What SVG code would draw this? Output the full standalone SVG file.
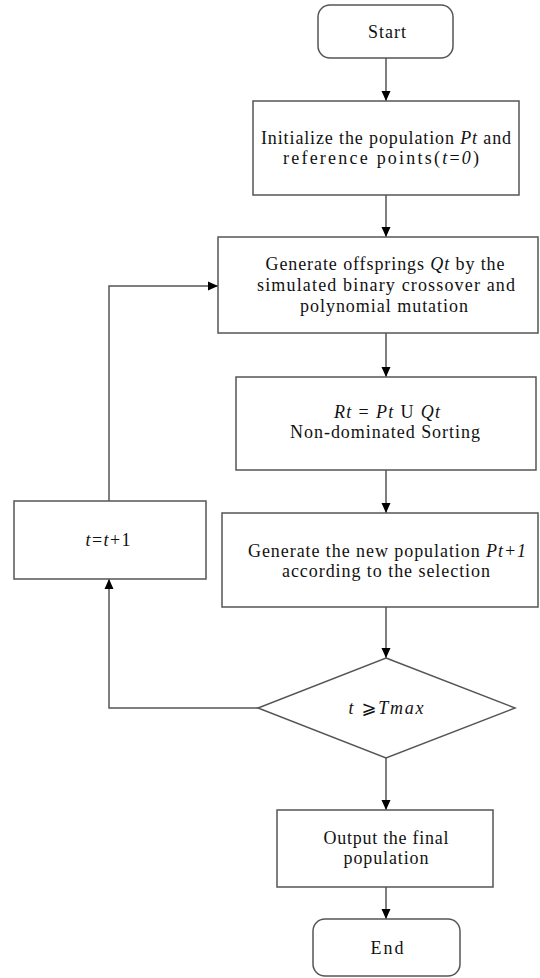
<svg xmlns="http://www.w3.org/2000/svg" width="540" height="978" viewBox="0 0 540 978">
<style>
  .box{fill:#fff;stroke:#555;stroke-width:1.5}
  .ln{fill:none;stroke:#555;stroke-width:1.5}
  text{font-family:"Liberation Serif","Times New Roman",serif;font-size:18px;fill:#111;text-anchor:middle}
  .i{font-style:italic}
</style>
<defs>
  <marker id="ah" markerWidth="11" markerHeight="11" refX="10" refY="5.5" orient="auto" markerUnits="userSpaceOnUse">
    <path d="M0,1 L10,5.5 L0,10 Z" fill="#000"/>
  </marker>
</defs>
<rect width="540" height="978" fill="#fff"/>
<g id="connectors">
  <line class="ln" x1="386" y1="58" x2="386" y2="101" marker-end="url(#ah)"/>
  <line class="ln" x1="386" y1="195" x2="386" y2="237" marker-end="url(#ah)"/>
  <line class="ln" x1="386" y1="333" x2="386" y2="377" marker-end="url(#ah)"/>
  <line class="ln" x1="386" y1="470" x2="386" y2="513" marker-end="url(#ah)"/>
  <line class="ln" x1="386" y1="607" x2="386" y2="658" marker-end="url(#ah)"/>
  <line class="ln" x1="386" y1="758" x2="386" y2="810" marker-end="url(#ah)"/>
  <line class="ln" x1="386" y1="887" x2="386" y2="919" marker-end="url(#ah)"/>
  <polyline class="ln" points="258,708 109,708 109,579" marker-end="url(#ah)"/>
  <polyline class="ln" points="109,501 109,286 218,286" marker-end="url(#ah)"/>
</g>
<g id="start">
  <rect class="box" x="318" y="5" width="135" height="53" rx="12"/>
  <text x="387" y="38" textLength="38" lengthAdjust="spacing">Start</text>
</g>
<g id="init">
  <rect class="box" x="253" y="101" width="266" height="94"/>
  <text x="386" y="144" textLength="250" lengthAdjust="spacing">Initialize the population <tspan class="i">Pt</tspan> and</text>
  <text x="381" y="164" textLength="196" lengthAdjust="spacing">reference points(<tspan class="i">t</tspan>=<tspan class="i">0</tspan>)</text>
</g>
<g id="offspring">
  <rect class="box" x="218" y="237" width="320" height="96"/>
  <text x="385" y="270" textLength="239" lengthAdjust="spacing">Generate offsprings <tspan class="i">Qt</tspan> by the</text>
  <text x="386" y="291" textLength="258" lengthAdjust="spacing">simulated binary crossover  and</text>
  <text x="384" y="312" textLength="168" lengthAdjust="spacing">polynomial mutation</text>
</g>
<g id="sorting">
  <rect class="box" x="236" y="377" width="300" height="93"/>
  <text x="387" y="418" textLength="106" lengthAdjust="spacing"><tspan class="i">Rt</tspan> = <tspan class="i">Pt</tspan> U <tspan class="i">Qt</tspan></text>
  <text x="385" y="438" textLength="190" lengthAdjust="spacing">Non-dominated Sorting</text>
</g>
<g id="increment">
  <rect class="box" x="14" y="501" width="192" height="78"/>
  <text x="108" y="546" textLength="45" lengthAdjust="spacing"><tspan class="i">t</tspan>=<tspan class="i">t</tspan>+1</text>
</g>
<g id="newpop">
  <rect class="box" x="222" y="513" width="316" height="94"/>
  <text x="387" y="557" textLength="278" lengthAdjust="spacing">Generate the new population <tspan class="i">Pt+1</tspan></text>
  <text x="386" y="577" textLength="208" lengthAdjust="spacing">according to the selection</text>
</g>
<g id="decision">
  <polygon class="box" points="386,658 515,708 386,758 258,708"/>
  <text x="386" y="714" textLength="75" lengthAdjust="spacing"><tspan class="i">t</tspan> <tspan font-family="DejaVu Serif, DejaVu Sans, serif" font-size="18">⩾</tspan><tspan class="i">Tmax</tspan></text>
</g>
<g id="output">
  <rect class="box" x="277" y="810" width="216" height="77"/>
  <text x="386" y="844" textLength="125" lengthAdjust="spacing">Output the final</text>
  <text x="386" y="864" textLength="85" lengthAdjust="spacing">population</text>
</g>
<g id="end">
  <rect class="box" x="313" y="919" width="147" height="57" rx="12"/>
  <text x="387" y="954" textLength="33" lengthAdjust="spacing">End</text>
</g>
</svg>
